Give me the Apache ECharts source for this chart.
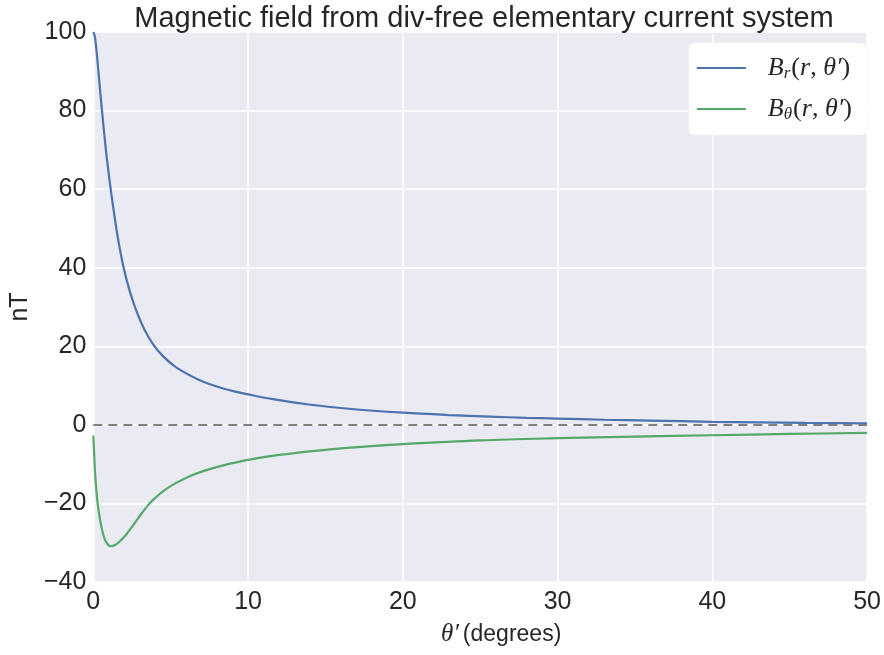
<!DOCTYPE html>
<html>
<head>
<meta charset="utf-8">
<script src="https://cdn.jsdelivr.net/npm/echarts@6/dist/echarts.min.js"></script>
<style>
  html, body { margin: 0; padding: 0; background: #ffffff; }
  #chart { width: 884px; height: 655px; }
</style>
</head>
<body>
<div id="chart"></div>
<script>
// Field components along the colatitude θ′ (degrees), in nT
const thetaBr = [0, 0.1, 0.2, 0.35, 0.56, 0.8, 1.0, 1.14, 1.3, 1.57, 1.93, 2.3, 2.71, 3.3, 3.9, 4.5, 5.2, 6.0, 6.7, 7.5, 8.4, 9.2, 10, 11.5, 13.8, 16.5, 20, 23, 25.6, 28, 30, 33, 36, 40, 43, 46, 50];
const valuesBr = [100, 98.8, 95.5, 89, 80, 70.5, 63.8, 59.5, 55, 48, 40.5, 34.8, 29.8, 24.3, 20.3, 17.5, 15.1, 13.1, 11.7, 10.4, 9.25, 8.45, 7.75, 6.6, 5.25, 4.1, 3.1, 2.5, 2.1, 1.8, 1.6, 1.3, 1.08, 0.78, 0.62, 0.5, 0.38];

const thetaBt = [0, 0.05, 0.1, 0.2, 0.28, 0.45, 0.67, 0.85, 1.1, 1.3, 1.53, 1.96, 2.3, 2.6, 3.0, 3.57, 4.0, 4.54, 5.3, 6.26, 7.2, 8.4, 10, 12, 15, 17.5, 20, 25, 30, 35, 40, 45, 50];
const valuesBt = [-2.7, -7, -11.3, -16.8, -20, -24.5, -28.3, -30, -30.9, -30.75, -30.3, -28.7, -27.0, -25.4, -23.2, -20.3, -18.6, -16.8, -14.9, -13.0, -11.65, -10.3, -8.9, -7.65, -6.35, -5.55, -4.9, -3.95, -3.4, -3.0, -2.65, -2.32, -2.02];

const xTicks = [0, 10, 20, 30, 40, 50];
const yTicks = [-40, -20, 0, 20, 40, 60, 80, 100];

const seriesNames = ['Br', 'Btheta'];
const seriesColors = ['#4C72B0', '#55A868'];

const pairs = (xs, ys) => xs.map((x, i) => [x, ys[i]]);
const minus = v => String(v).replace('-', '\u2212');

const mathFont = 'Liberation Serif';
const uiFont = 'Liberation Sans';
const ink = '#262626';

const legendLabels = {
  Br: '{i|B}{s|r}{u|(}{i|r}{u|, }{i|θ′}{u|)}',
  Btheta: '{i|B}{s|θ}{u|(}{i|r}{u|, }{i|θ′}{u|)}'
};

const chart = echarts.init(document.getElementById('chart'), null, { renderer: 'canvas' });

chart.setOption({
  backgroundColor: '#ffffff',
  animation: false,
  title: {
    text: 'Magnetic field from div-free elementary current system',
    left: 479,
    top: -1,
    textAlign: 'center',
    textStyle: { fontFamily: uiFont, fontSize: 29, fontWeight: 'normal', color: ink }
  },
  grid: { left: 93, right: 16, top: 32, bottom: 73, containLabel: false, show: true, backgroundColor: '#EAEAF2', borderWidth: 0 },
  legend: {
    orient: 'vertical',
    right: 18,
    top: 43,
    backgroundColor: '#ffffff',
    borderRadius: 5,
    padding: [12, 14, 12, 8],
    itemGap: 14,
    itemWidth: 49,
    itemHeight: 2,
    icon: 'rect',
    data: seriesNames,
    formatter: name => legendLabels[name],
    textStyle: {
      color: ink,
      padding: [0, 0, 0, 17],
      rich: {
        i: { fontFamily: mathFont, fontStyle: 'italic', fontSize: 26, color: ink },
        u: { fontFamily: mathFont, fontSize: 26, color: ink },
        s: { fontFamily: mathFont, fontStyle: 'italic', fontSize: 17, padding: [11, 1, 0, 0], color: ink }
      }
    }
  },
  xAxis: {
    type: 'value',
    min: xTicks[0],
    max: xTicks[xTicks.length - 1],
    interval: 10,
    name: '{i|θ′}(degrees)',
    nameLocation: 'middle',
    nameGap: 40,
    nameTextStyle: {
      fontFamily: uiFont, fontSize: 23, color: ink,
      padding: [0, 0, 0, 42],
      rich: { i: { fontFamily: mathFont, fontStyle: 'italic', fontSize: 25, color: ink, padding: [0, 4, 0, 0] } }
    },
    axisLine: { show: false },
    axisTick: { show: false },
    axisLabel: { fontFamily: uiFont, fontSize: 25, color: ink, margin: 8, formatter: v => minus(v) },
    splitLine: { show: true, lineStyle: { color: '#ffffff', width: 1.5 } }
  },
  yAxis: {
    type: 'value',
    min: yTicks[0],
    max: yTicks[yTicks.length - 1],
    interval: 20,
    name: 'nT',
    nameLocation: 'middle',
    nameGap: 50,
    nameTextStyle: { fontFamily: uiFont, fontSize: 25, color: ink },
    axisLine: { show: false },
    axisTick: { show: false },
    axisLabel: { fontFamily: uiFont, fontSize: 25, color: ink, margin: 7, formatter: v => minus(v) },
    splitLine: { show: true, lineStyle: { color: '#ffffff', width: 1.5 } }
  },
  series: [
    {
      name: seriesNames[0],
      type: 'line',
      data: pairs(thetaBr, valuesBr),
      smooth: 0.35,
      showSymbol: false,
      symbol: 'none',
      color: seriesColors[0],
      lineStyle: { width: 2.2, color: seriesColors[0] },
      z: 3,
      markLine: {
        silent: true,
        symbol: 'none',
        label: { show: false },
        lineStyle: { type: [9, 6], color: '#7f7f7f', width: 2.2 },
        data: [{ yAxis: 0 }]
      }
    },
    {
      name: seriesNames[1],
      type: 'line',
      data: pairs(thetaBt, valuesBt),
      smooth: 0.35,
      showSymbol: false,
      symbol: 'none',
      color: seriesColors[1],
      lineStyle: { width: 2.2, color: seriesColors[1] },
      z: 3
    }
  ]
});
</script>
</body>
</html>
